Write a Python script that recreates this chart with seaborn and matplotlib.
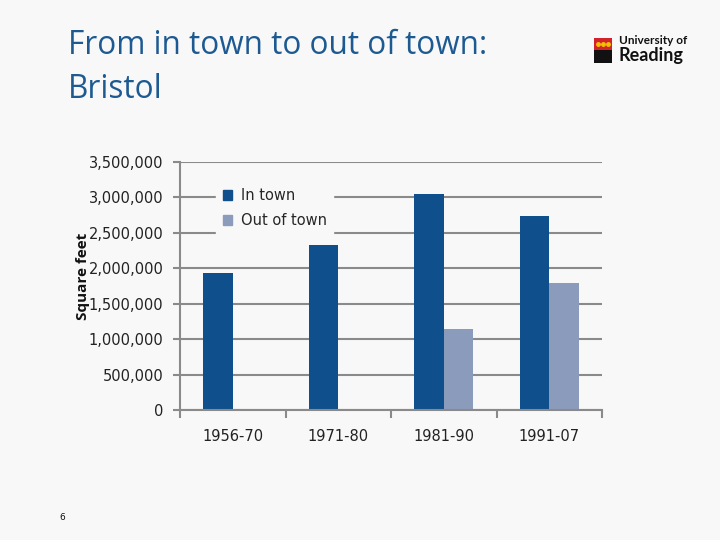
import matplotlib
matplotlib.use("Agg")
import matplotlib.pyplot as plt
import matplotlib.patches as mpatches
from matplotlib.ticker import FuncFormatter, FixedLocator
import seaborn as sns
import pandas as pd

periods = ["1956-70", "1971-80", "1981-90", "1991-07"]
in_town = [1930000, 2330000, 3050000, 2740000]
out_of_town = [0, 0, 1140000, 1790000]
series_names = ["In town", "Out of town"]
colors = ["#0f4f8b", "#8a9bbb"]

df = pd.DataFrame({
    "Period": periods * 2,
    "Value": in_town + out_of_town,
    "Series": [series_names[0]] * 4 + [series_names[1]] * 4,
})

sns.set_theme(style="white")
plt.rcParams["font.family"] = ["DejaVu Sans"]

bg = "#f8f8f8"
fig = plt.figure(figsize=(7.2, 5.4), dpi=100, facecolor=bg)
ax = fig.add_axes([180/720, 1-410/540, (602-180)/720, (410-162)/540])
ax.set_facecolor(bg)

sns.barplot(data=df, x="Period", y="Value", hue="Series", order=periods,
            hue_order=series_names, palette=colors, width=0.56, dodge=True,
            saturation=1, ax=ax, legend=False, linewidth=0, gap=0)

ax.set_ylim(0, 3500000)
ax.set_xlim(-0.5, 3.5)
ax.set_yticks(range(0, 3500001, 500000))
ax.yaxis.set_major_formatter(FuncFormatter(lambda v, p: f"{int(v):,}"))
ax.grid(axis="y", color="#8a8a8a", linewidth=1.5)
ax.set_axisbelow(True)
for s in ["top", "right"]:
    ax.spines[s].set_visible(False)
for s in ["left", "bottom"]:
    ax.spines[s].set_color("#8a8a8a")
    ax.spines[s].set_linewidth(1.5)

ax.tick_params(axis="y", which="major", left=True, length=5, width=1.5,
               color="#8a8a8a", pad=7, labelsize=10.5, labelcolor="#222222")
ax.tick_params(axis="x", which="major", bottom=False, length=0, pad=14,
               labelsize=10.5, labelcolor="#222222")
ax.xaxis.set_minor_locator(FixedLocator([-0.5, 0.5, 1.5, 2.5, 3.5]))
ax.tick_params(axis="x", which="minor", bottom=True, length=6, width=1.5,
               color="#8a8a8a", direction="out")
ax.set_xlabel("")
ax.set_ylabel("Square feet", fontsize=11, fontweight="bold", color="#111111",
              family="Open Sans")
ax.yaxis.set_label_coords(-0.214, 0.540)

handles = [mpatches.Patch(color=c, label=n) for c, n in zip(colors, series_names)]
leg = ax.legend(handles=handles, loc="upper left", bbox_to_anchor=(0.068, 0.950),
                frameon=True, fontsize=10.5, handlelength=0.65, handleheight=0.65,
                handletextpad=0.6, labelspacing=0.7, borderpad=0.45)
leg.get_frame().set_facecolor(bg)
leg.get_frame().set_edgecolor(bg)
leg.get_frame().set_alpha(1)
leg.get_frame().set_boxstyle("square", pad=0)
leg.set_zorder(5)

title_color = "#1d5a92"
fig.text(68/720, 1-46/540, "From in town to out of town:", fontsize=22.7,
         color=title_color, va="center", ha="left", family="Open Sans")
fig.text(68/720, 1-90/540, "Bristol", fontsize=22.7,
         color=title_color, va="center", ha="left", family="Open Sans")

fig.text(62/720, 1-518/540, "6", fontsize=6.5, color="#111111", va="center", ha="center")

# logo
shield_top = fig.add_axes([594/720, 1-50/540, 18/720, 12/540])
shield_top.set_facecolor("#d2232a")
shield_top.set_xticks([]); shield_top.set_yticks([])
for s in shield_top.spines.values():
    s.set_visible(False)
for xx in [0.2, 0.5, 0.8]:
    shield_top.plot(xx, 0.5, "o", color="#f2c200", markersize=2.5)
shield_top.set_xlim(0, 1); shield_top.set_ylim(0, 1)
shield_bot = fig.add_axes([594/720, 1-63/540, 18/720, 13/540])
shield_bot.set_facecolor("#111111")
shield_bot.set_xticks([]); shield_bot.set_yticks([])
for s in shield_bot.spines.values():
    s.set_visible(False)
fig.text(619/720, 1-41/540, "University of", fontsize=8.5, fontweight="bold",
         color="#111111", va="center", ha="left", family="Lato")
fig.text(618/720, 1-56/540, "Reading", fontsize=13, fontweight="bold",
         color="#111111", va="center", ha="left", family="Lato")

fig.savefig("out.png", dpi=100, facecolor=bg)
